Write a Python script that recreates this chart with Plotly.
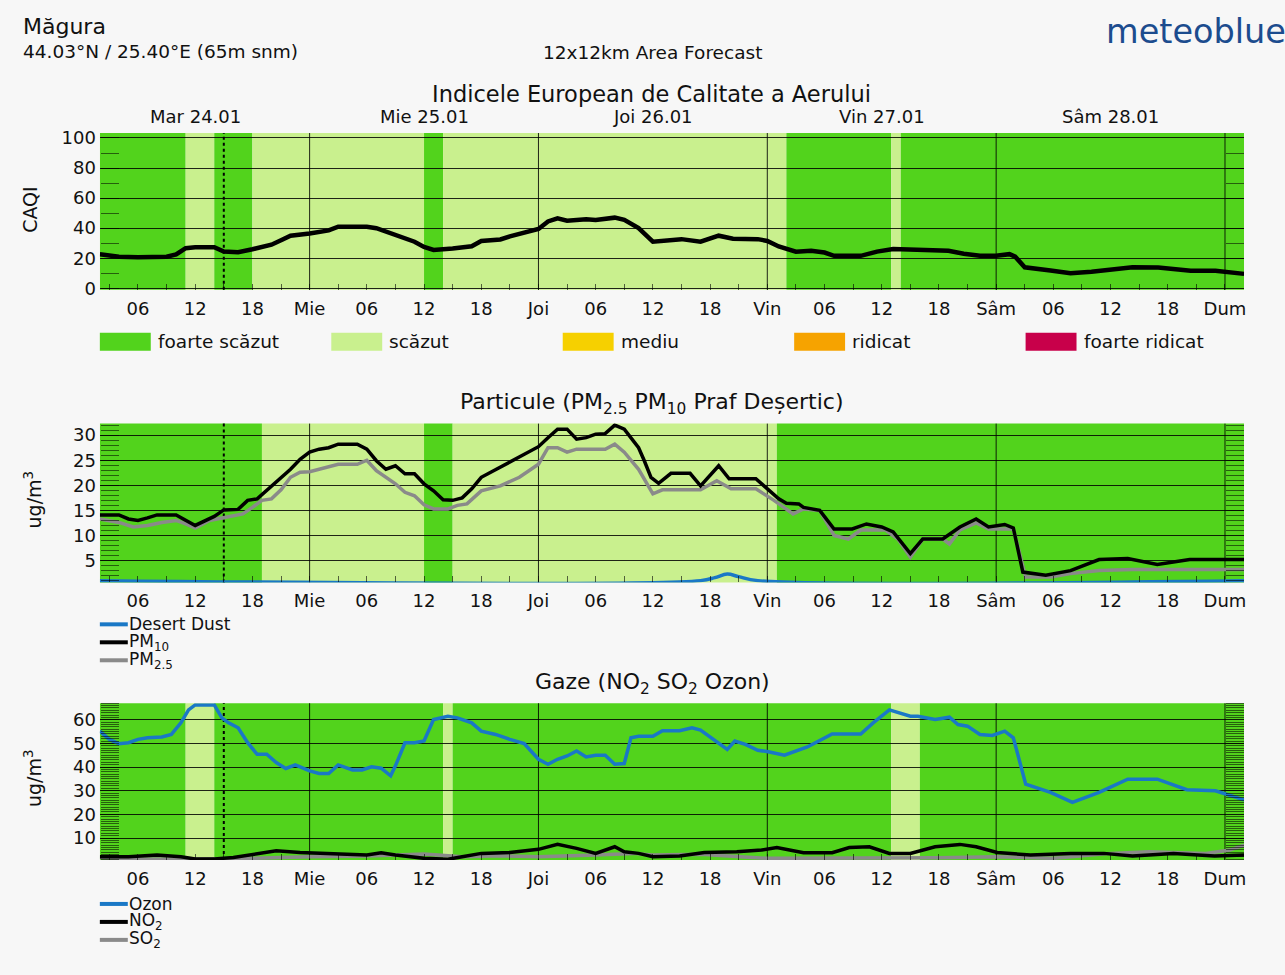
import plotly.graph_objects as go
import pandas as pd

W, H = 1285, 975
FONT = "DejaVu Sans"
T0 = pd.Timestamp("2023-01-24 00:00")

# ---------------- data (hours counted from Tue 24.01 00:00) ----------------
X_START_H, X_END_H = 2, 122

CAQI_H = [2, 4, 6, 9, 10, 11, 12, 14, 15, 16.5, 18, 20, 21, 22, 24, 26, 27, 30, 31, 33, 35, 36, 37, 39,
          41, 42, 44, 45, 48, 49, 50, 51, 53, 54, 56, 57, 58.5, 60, 61, 63, 65, 66.9, 68.4, 71, 72, 73.2,
          75, 76.6, 78, 79, 81.8, 83.5, 85.2, 88, 91, 92.6, 94.3, 96, 97.4, 98, 99, 101.7, 103.8, 106,
          108.2, 110.3, 113, 116.4, 119, 122]
CAQI_V = [22.7, 21, 20.7, 21, 22.5, 26.7, 27.3, 27.3, 24.4, 24, 26, 29, 32, 35, 36.5, 38.5, 41, 41, 40,
          35.5, 31, 27.5, 25.5, 26.5, 28, 31.5, 32.5, 34.5, 39.5, 44.5, 46.5, 45, 46, 45.5, 47, 45.5, 40,
          31, 31.5, 32.7, 31, 35, 33, 32.7, 31.5, 27.8, 24.4, 25, 23.8, 21.6, 21.6, 24.4, 26.2, 25.5, 25,
          23, 21.6, 21.6, 22.7, 21, 14, 11.8, 10, 11, 12.9, 14, 13.8, 11.6, 11.6, 9.6]

PM10_H = [2, 4, 5, 6, 7, 8, 10, 11, 12, 14, 15, 16.5, 17.5, 18.5, 20, 21, 22, 23, 24, 25, 26, 27, 29, 30,
          31, 32, 33, 34, 35, 36, 37, 38, 39, 40, 41, 42, 44, 46, 48, 49, 50, 51, 52, 53, 54, 55, 56, 57,
          58.5, 59.1, 59.8, 60.6, 61.9, 63.9, 65, 66.9, 68, 70.8, 72, 73.2, 74, 75.3, 75.8, 77.5, 79,
          80.9, 82.4, 84, 85.2, 87, 88.3, 90.4, 92.2, 93.9, 95.2, 96.9, 97.8, 98.8, 101.2, 103.8, 106.8,
          109.8, 112.9, 116.3, 122]
PM10_V = [14.1, 14.1, 13.3, 13, 13.5, 14.1, 14.1, 13, 12, 13.8, 15.1, 15.2, 17, 17.3, 19.9, 21.6, 23.2,
          25.2, 26.6, 27.2, 27.5, 28.2, 28.2, 27.2, 24.9, 23.2, 23.9, 22.3, 22.3, 20.3, 18.9, 17.1, 17,
          17.5, 19.3, 21.6, 23.6, 25.6, 27.7, 29.5, 31.2, 31.2, 29.2, 29.5, 30.2, 30.3, 32, 31.2, 27.5,
          24.9, 21.6, 20.4, 22.4, 22.4, 19.9, 23.9, 21.3, 21.3, 19.3, 17.3, 16.4, 16.3, 15.6, 15, 11.3,
          11.3, 12.3, 11.7, 10.7, 6.4, 9.3, 9.3, 11.7, 13.3, 11.7, 12.2, 11.5, 2.7, 2.1, 3, 5.2, 5.4,
          4.2, 5.2, 5.2]

PM25_H = [2, 4, 5.5, 7, 8.5, 10, 11, 12, 13.5, 15, 17, 18, 19, 20, 21, 22, 23, 24, 26, 27, 29, 30, 31, 33,
          34, 35, 36, 37, 38.5, 39.5, 40.5, 42, 44, 46, 48, 49, 50, 51, 52, 55, 56, 57, 58.5, 60, 61, 65,
          66.7, 68.2, 70.8, 72.7, 74.7, 75.8, 77.5, 79, 80.5, 81.8, 84.4, 85.7, 87, 88.3, 90.4, 91.1,
          92.2, 93.9, 95.2, 97.8, 99.1, 101.7, 103.8, 106.8, 110.3, 122]
PM25_V = [13.3, 12.6, 11.7, 12, 12.6, 13, 12.3, 11.5, 13, 13.6, 14.3, 15.6, 17, 17.3, 19.1, 21.6, 22.6,
          22.7, 23.6, 24.2, 24.2, 25, 22.9, 20.3, 18.6, 17.9, 16.1, 15.3, 15.3, 16, 16.3, 18.9, 19.9,
          21.6, 24.2, 27.5, 27.5, 26.6, 27.2, 27.2, 28.2, 26.6, 23.2, 18.3, 19.1, 19.1, 20.9, 19.3, 19.3,
          17, 14.3, 15.3, 15, 10, 9.3, 11.1, 11.1, 9.3, 5.7, 9.3, 9.3, 8.3, 11.1, 12.5, 11.3, 11.3, 1.7,
          1.7, 2.4, 3, 3.2, 3.2]

DUST_H = [2, 65, 66.5, 67.8, 69, 71, 122]
DUST_V = [1.0, 1.0, 1.6, 2.3, 1.8, 1.0, 1.0]

OZON_H = [2, 3, 4, 5, 6, 7, 8.5, 9.5, 10.5, 11.3, 12, 14, 14.8, 15.5, 16.5, 17.5, 18.5, 19.5, 20.5, 21.5,
          22.5, 24, 25, 26, 27, 28.5, 29.5, 30.5, 31.5, 32.5, 33, 34, 35, 36, 37, 38.5, 39.5, 41, 42,
          43.5, 45, 46.5, 48, 49, 50, 51, 52, 53, 54, 55, 56, 57, 57.7, 58.5, 60, 61, 62.8, 64.1, 65,
          66.3, 67.8, 68.6, 69.7, 71, 72.1, 73.8, 76.2, 78.8, 81.8, 83.1, 84.8, 87, 87.8, 89.6, 91.1,
          92, 93, 94.3, 95.6, 96.9, 97.8, 99.1, 101.7, 104, 106.8, 109.8, 112.9, 116, 119, 122]
OZON_V = [55.2, 51.7, 49.9, 50.3, 51.7, 52.4, 52.7, 53.8, 58.7, 64.2, 66.3, 66.3, 60.8, 58.7, 56.6, 50.3,
          45.4, 45.4, 41.9, 39.4, 40.9, 38.4, 37.3, 37.3, 40.9, 38.8, 38.8, 40.1, 39.5, 36.3, 40.5, 50.3,
          50.3, 51, 60.1, 61.5, 60.8, 58.7, 55.2, 53.8, 51.7, 49.9, 43.3, 41.2, 43.3, 44.7, 46.8, 44.3,
          45, 45, 41.2, 41.5, 52.4, 53, 53, 55.4, 55.4, 56.6, 55.6, 51.7, 47.5, 51, 49.6, 47.1, 46.5, 45,
          48.5, 54, 54, 58.7, 64.2, 61.5, 61.5, 60.1, 61.1, 58, 57.3, 53.8, 53.4, 55.2, 52.4, 32.8, 29.3,
          25.1, 29.3, 34.9, 34.9, 30.4, 30, 26.1]

NO2_H = [2, 5, 8, 10.5, 12, 14, 16, 18.5, 20.5, 23, 25, 27, 30, 31.5, 33, 36, 38.5, 40, 42, 45, 48, 50,
         52, 54, 56, 57, 58.5, 60, 62.8, 65.4, 68.8, 71.4, 73, 75.8, 78.8, 80.6, 82.7, 84.8, 87, 89.6,
         92.2, 93.9, 96.1, 99.6, 103.8, 107.3, 110.3, 114.6, 118.9, 122]
NO2_V = [2.1, 2.1, 2.8, 2.1, 1.1, 1.1, 1.8, 3.5, 4.6, 3.9, 3.5, 3.1, 2.8, 3.8, 2.8, 1.4, 1, 2.1, 3.5, 3.9,
         5.2, 7.3, 5.6, 3.5, 6.3, 4.2, 3.5, 2.1, 2.4, 3.9, 4.2, 4.9, 6, 3.8, 3.8, 6, 6.3, 3.5, 3.5, 6.3,
         7.3, 6.3, 3.9, 2.8, 3.5, 3.5, 2.4, 3.5, 2.4, 2.8]

SO2_H = [2, 6, 12, 18, 24, 30, 36, 40, 44, 48, 54, 58, 60, 65, 72, 78, 84, 90, 96, 102, 108, 112, 118,
         120.5, 122]
SO2_V = [1.8, 1.1, 1.1, 1.4, 2.1, 2.4, 3.2, 2.1, 2.5, 2.1, 2.8, 3.5, 2.8, 3.1, 1.4, 1.4, 1.4, 1.7, 2.1,
         1.4, 3.5, 4.2, 3.5, 4.9, 7]

# background class bands: edges (hours) and class index per segment
CAQI_BAND_EDGES = [2, 11, 14, 18, 36, 38, 74, 85, 86, 122]
CAQI_BAND_CLASS = [0, 1, 0, 1, 0, 1, 0, 1, 0]
PM_BAND_EDGES = [2, 19, 36, 39, 73, 122]
PM_BAND_CLASS = [0, 1, 0, 1, 0]
GAS_BAND_EDGES = [2, 11, 14, 38, 39, 85, 88, 122]
GAS_BAND_CLASS = [0, 1, 0, 1, 0, 1, 0]

NOW_H = 15

CLASS_NAMES = ["foarte scăzut", "scăzut", "mediu", "ridicat", "foarte ridicat"]
CLASS_COLORS = ["#52d31c", "#c9f08e", "#f6d000", "#f6a300", "#c8004a"]

DAY_SHORT = ["Mar", "Mie", "Joi", "Vin", "Sâm", "Dum"]
DAY_FULL = ["Mar 24.01", "Mie 25.01", "Joi 26.01", "Vin 27.01", "Sâm 28.01"]

CAQI_TICKS = [0, 20, 40, 60, 80, 100]
PM_TICKS = [5, 10, 15, 20, 25, 30]
GAS_TICKS = [10, 20, 30, 40, 50, 60]

CAQI_RANGE = [-1, 103.3]
PM_RANGE = [0.65, 32.3]
GAS_RANGE = [0.7, 67]

# ---------------- helpers ----------------
def t(h):
    if isinstance(h, (list, tuple)):
        return list(T0 + pd.to_timedelta(h, unit="h"))
    return T0 + pd.Timedelta(hours=h)

def px(x):
    return x / W

# vertical placement, compensated for the slight vertical squeeze seen in the rendering
def py(y):
    return 1 - ((y - 3.8) / 0.986) / H

XDOM = [px(100), px(1246)]
tick_hours = list(range(6, 121, 6))
tick_text = [DAY_SHORT[h // 24] if h % 24 == 0 else f"{h % 24:02d}" for h in tick_hours]

fig = go.Figure()

BLUE = "#1a78c6"
GRAY = "#8a8a8a"
TXT = "#111"
FS = 18  # main text size

fig.add_trace(go.Scatter(x=t(CAQI_H), y=CAQI_V, mode="lines", line=dict(color="black", width=4.5),
                         xaxis="x", yaxis="y", showlegend=False))

fig.add_trace(go.Scatter(x=t(PM25_H), y=PM25_V, mode="lines", line=dict(color=GRAY, width=3.5),
                         xaxis="x2", yaxis="y2", showlegend=False))
fig.add_trace(go.Scatter(x=t(PM10_H), y=PM10_V, mode="lines", line=dict(color="black", width=3.5),
                         xaxis="x2", yaxis="y2", showlegend=False))
fig.add_trace(go.Scatter(x=t(DUST_H), y=DUST_V, mode="lines", line=dict(color=BLUE, width=3.5, shape="spline"),
                         xaxis="x2", yaxis="y2", showlegend=False))

fig.add_trace(go.Scatter(x=t(SO2_H), y=SO2_V, mode="lines", line=dict(color=GRAY, width=3.5),
                         xaxis="x3", yaxis="y3", showlegend=False))
fig.add_trace(go.Scatter(x=t(NO2_H), y=NO2_V, mode="lines", line=dict(color="black", width=3.5),
                         xaxis="x3", yaxis="y3", showlegend=False))
fig.add_trace(go.Scatter(x=t(OZON_H), y=OZON_V, mode="lines", line=dict(color=BLUE, width=3.5),
                         xaxis="x3", yaxis="y3", showlegend=False))

# empty traces so the right-hand (mirror tick) axes get drawn
for xa, ya in [("x", "y4"), ("x2", "y5"), ("x3", "y6")]:
    fig.add_trace(go.Scatter(x=[t(X_START_H)], y=[None], mode="lines", xaxis=xa, yaxis=ya, showlegend=False))

shapes = []
annotations = []

panels = [
    ("x", "y", CAQI_BAND_EDGES, CAQI_BAND_CLASS),
    ("x2", "y2", PM_BAND_EDGES, PM_BAND_CLASS),
    ("x3", "y3", GAS_BAND_EDGES, GAS_BAND_CLASS),
]
for xr, yr, edges, classes in panels:
    for i, c in enumerate(classes):
        shapes.append(dict(type="rect", xref=xr, yref=f"{yr} domain", x0=t(edges[i]), x1=t(edges[i + 1]),
                           y0=0, y1=1, fillcolor=CLASS_COLORS[c], line=dict(width=0), layer="below"))
    for d in range(1, 6):
        shapes.append(dict(type="line", xref=xr, yref=f"{yr} domain", x0=t(24 * d), x1=t(24 * d),
                           y0=0, y1=1, line=dict(color="rgba(0,0,0,0.85)", width=1), layer="below"))
    shapes.append(dict(type="line", xref=xr, yref=f"{yr} domain", x0=t(NOW_H), x1=t(NOW_H), y0=0, y1=1,
                       line=dict(color="black", width=2, dash="dot"), layer="below"))

def xaxis_cfg(anchor):
    return dict(domain=XDOM, anchor=anchor, range=[t(X_START_H), t(X_END_H)], type="date",
                tickmode="array", tickvals=t(tick_hours), ticktext=tick_text,
                ticks="inside", ticklen=6, tickcolor="rgba(0,0,0,0.6)", tickwidth=1,
                showgrid=False, zeroline=False, showline=False,
                minor=dict(tickmode="array", tickvals=t(list(range(3, 121, 6))), ticks="inside", ticklen=6,
                           tickcolor="rgba(0,0,0,0.6)", showgrid=False),
                tickfont=dict(family=FONT, size=FS, color=TXT), ticklabelstandoff=6)

MINOR_COL = "rgba(0,0,0,0.55)"

def yaxis_cfg(dom, rng, tickvals, minor_dtick):
    return dict(domain=dom, anchor="free", position=XDOM[0], range=rng, tickmode="array", tickvals=tickvals,
                showgrid=True, gridcolor="rgba(0,0,0,0.85)", gridwidth=1, zeroline=False,
                ticks="", showline=False,
                minor=dict(dtick=minor_dtick, ticks="inside", ticklen=18, tickcolor=MINOR_COL,
                           tickwidth=1, showgrid=False),
                tickfont=dict(family=FONT, size=FS, color=TXT), ticklabelstandoff=4)

def yaxis_right(over, xa, rng, minor_dtick):
    return dict(overlaying=over, anchor=xa, side="right", range=rng, showgrid=False, zeroline=False,
                showticklabels=False, ticks="", showline=False,
                minor=dict(dtick=minor_dtick, ticks="inside", ticklen=18, tickcolor=MINOR_COL,
                           tickwidth=1, showgrid=False))

fig.update_layout(
    xaxis=xaxis_cfg("y"),
    xaxis2=xaxis_cfg("y2"),
    xaxis3=xaxis_cfg("y3"),
    yaxis=yaxis_cfg([py(288), py(131)], CAQI_RANGE, CAQI_TICKS, 10),
    yaxis2=yaxis_cfg([py(581), py(422)], PM_RANGE, PM_TICKS, 1),
    yaxis3=yaxis_cfg([py(859), py(702)], GAS_RANGE, GAS_TICKS, 1),
    yaxis4=yaxis_right("y", "x", CAQI_RANGE, 10),
    yaxis5=yaxis_right("y2", "x2", PM_RANGE, 1),
    yaxis6=yaxis_right("y3", "x3", GAS_RANGE, 1),
)

def txt(x, y, text, size=FS, xanchor="left", color=TXT, angle=0):
    annotations.append(dict(x=px(x), y=py(y), xref="paper", yref="paper", text=text, showarrow=False,
                            xanchor=xanchor, yanchor="middle", textangle=angle,
                            font=dict(family=FONT, size=size, color=color)))

# header
txt(21, 24, "Măgura", 22)
txt(21, 49, "44.03°N / 25.40°E (65m snm)", 18.5)
txt(654, 50, "12x12km Area Forecast", 18.5, "center")
txt(1290, 29, "meteoblue", 33.5, "right", "#1c4c8e")

# panel titles
txt(653, 92, "Indicele European de Calitate a Aerului", 22.5, "center")
txt(653, 402, "Particule (PM<sub>2.5</sub> PM<sub>10</sub> Praf Deșertic)", 22, "center")
txt(654, 682, "Gaze (NO<sub>2</sub> SO<sub>2</sub> Ozon)", 22, "center")

# day labels on top of first panel
for i, lab in enumerate(DAY_FULL):
    annotations.append(dict(x=t(24 * i + 12), y=py(114), xref="x", yref="paper", text=lab, showarrow=False,
                            xanchor="center", yanchor="middle", font=dict(family=FONT, size=FS, color=TXT)))

# y titles
txt(30, 207, "CAQI", 19, "center", angle=-90)
txt(33, 498, "ug/m<sup>3</sup>", 19, "center", angle=-90)
txt(33, 777, "ug/m<sup>3</sup>", 19, "center", angle=-90)

# category legend
for i, (name, col) in enumerate(zip(CLASS_NAMES, CLASS_COLORS)):
    x0 = 100 + i * 231.8
    shapes.append(dict(type="rect", xref="paper", yref="paper", x0=px(x0), x1=px(x0 + 51),
                       y0=py(349), y1=py(331), fillcolor=col, line=dict(width=0)))
    txt(x0 + 56, 340, name, 18.5)

# line legends
def line_legend(y0, items):
    for k, (name, col) in enumerate(items):
        yy = y0 + 18 * k
        shapes.append(dict(type="line", xref="paper", yref="paper", x0=px(100), x1=px(128),
                           y0=py(yy), y1=py(yy), line=dict(color=col, width=4)))
        txt(127, yy, name, 17)

line_legend(623, [("Desert Dust", BLUE), ("PM<sub>10</sub>", "black"), ("PM<sub>2.5</sub>", GRAY)])
line_legend(903, [("Ozon", BLUE), ("NO<sub>2</sub>", "black"), ("SO<sub>2</sub>", GRAY)])

fig.update_layout(
    width=W, height=H, margin=dict(l=0, r=0, t=0, b=0),
    paper_bgcolor="#f7f7f7", plot_bgcolor="#f7f7f7",
    shapes=shapes, annotations=annotations, showlegend=False,
    font=dict(family=FONT, size=FS, color=TXT),
    hovermode=False,
)

fig.write_html("out.html", config={"displayModeBar": False},
               post_script="document.body.style.margin='0px';document.body.style.overflow='hidden';")
